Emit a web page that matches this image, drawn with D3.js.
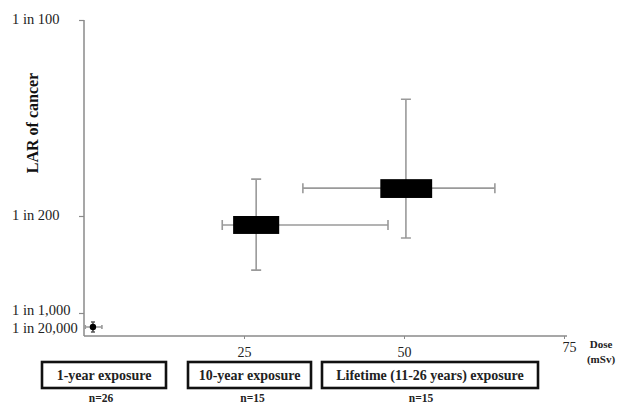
<!DOCTYPE html>
<html>
<head>
<meta charset="utf-8">
<script src="https://cdn.jsdelivr.net/npm/d3@7"></script>
<style>
  body { margin: 0; background: #fff; }
  svg { display: block; font-family: "Liberation Serif", "DejaVu Serif", serif; }
</style>
</head>
<body>
<svg id="chart" width="621" height="405"></svg>
<script>
// ---- data ----
var groups = ["1-year exposure", "10-year exposure", "Lifetime (11-26 years) exposure"];
var nLabels = ["n=26", "n=15", "n=15"];

// dose (mSv)
var doseMid = [1.4, 26.9, 50.3];
var doseQ1 = [null, 23.3, 46.3];
var doseQ3 = [null, 30.5, 54.4];
var doseMin = [0.2, 21.6, 34.2];
var doseMax = [2.8, 47.5, 64.2];

// lifetime attributable risk (as a fraction)
var riskMid = [0.00005, 0.00463, 0.00571];
var riskQ1 = [null, 0.00426, 0.00546];
var riskQ3 = [null, 0.005, 0.00594];
var riskMin = [0.000022, 0.00277, 0.00409];
var riskMax = [0.00039, 0.00594, 0.00798];

var yTicks = [1 / 20000, 1 / 1000, 1 / 200, 1 / 100];
var yTickLabels = ["1 in 20,000", "1 in 1,000", "1 in 200", "1 in 100"];
var xTicks = [25, 50, 75];

var svg = d3.select("#chart");

// the original axis is not linear nor log: piecewise mapping between the labelled risks
var y = d3.scaleLinear()
    .domain([0, 1 / 20000, 1 / 1000, 1 / 200, 1 / 100])
    .range([336, 327, 313, 216, 20]);
var x = d3.scaleLinear().domain([0, 75]).range([84, 564]);

var axisColor = "#8a8a8a";
var whiskerColor = "#9a9a9a";

// ---- axes ----
var yAxis = svg.append("g")
    .attr("transform", "translate(" + x(0) + ",0)")
    .call(d3.axisLeft(y).tickValues(yTicks).tickSize(5).tickFormat(""));
yAxis.select(".domain").attr("d", "M0," + y(1 / 100) + "V" + y(0)).attr("stroke", axisColor).attr("stroke-width", 1.5);
yAxis.selectAll(".tick line").attr("stroke", axisColor).attr("stroke-width", 1.2)
    .attr("display", function (d) { return d === 1 / 20000 ? "none" : null; });

// labels sit at the left edge; the two lowest ones are squeezed apart a little
svg.append("g").selectAll("text")
    .data(yTicks)
    .join("text")
    .attr("x", 12)
    .attr("y", function (d, i) { return y(d) + (i === 1 ? -3 : i === 0 ? 1 : -1); })
    .attr("dy", "0.32em")
    .attr("font-size", 14.5)
    .attr("fill", "#222")
    .text(function (d, i) { return yTickLabels[i]; });

var xAxis = svg.append("g")
    .attr("transform", "translate(0," + y(0) + ")")
    .call(d3.axisBottom(x).tickValues(xTicks).tickSize(3).tickFormat(d3.format("d")));
xAxis.select(".domain").attr("d", "M" + x(0) + ",0H" + (x(75) + 3)).attr("stroke", axisColor).attr("stroke-width", 1.5);
xAxis.selectAll(".tick line").attr("stroke", axisColor);
xAxis.selectAll(".tick text")
    .attr("font-family", "Liberation Serif, serif")
    .attr("font-size", 14)
    .attr("fill", "#222")
    .attr("y", function (d) { return d === 75 ? 6 : 11; })
    .attr("dx", function (d) { return d === 75 ? 5 : 0; });

svg.append("text")
    .attr("transform", "translate(38,123) rotate(-90)")
    .attr("text-anchor", "middle")
    .attr("font-size", 16)
    .attr("font-weight", "bold")
    .attr("fill", "#111")
    .text("LAR of cancer");

var doseLabel = svg.append("text")
    .attr("x", 601)
    .attr("text-anchor", "middle")
    .attr("font-size", 11)
    .attr("font-weight", "bold")
    .attr("fill", "#222");
doseLabel.append("tspan").attr("x", 601).attr("y", 348).text("Dose");
doseLabel.append("tspan").attr("x", 601).attr("y", 363).text("(mSv)");

// ---- whiskers and boxes ----
var idx = d3.range(groups.length);
var marks = svg.append("g");
var cap = 5;

marks.selectAll(".hwhisker")
    .data(idx)
    .join("path")
    .attr("class", "hwhisker")
    .attr("fill", "none")
    .attr("stroke", whiskerColor)
    .attr("stroke-width", 1.6)
    .attr("d", function (i) {
        var yy = y(riskMid[i]);
        var c = i === 0 ? 2 : cap;
        return "M" + x(doseMin[i]) + "," + yy + "H" + x(doseMax[i]) +
            "M" + x(doseMin[i]) + "," + (yy - c) + "V" + (yy + c) +
            "M" + x(doseMax[i]) + "," + (yy - c) + "V" + (yy + c);
    });

marks.selectAll(".vwhisker")
    .data(idx)
    .join("path")
    .attr("class", "vwhisker")
    .attr("fill", "none")
    .attr("stroke", function (i) { return i === 0 ? "#555" : whiskerColor; })
    .attr("stroke-width", 1.6)
    .attr("d", function (i) {
        var xx = x(doseMid[i]);
        var c = i === 0 ? 2 : cap;
        return "M" + xx + "," + y(riskMax[i]) + "V" + y(riskMin[i]) +
            "M" + (xx - c) + "," + y(riskMax[i]) + "H" + (xx + c) +
            "M" + (xx - c) + "," + y(riskMin[i]) + "H" + (xx + c);
    });

marks.selectAll(".box")
    .data(idx.filter(function (i) { return doseQ1[i] !== null; }))
    .join("rect")
    .attr("class", "box")
    .attr("x", function (i) { return x(doseQ1[i]); })
    .attr("width", function (i) { return x(doseQ3[i]) - x(doseQ1[i]); })
    .attr("y", function (i) { return y(riskQ3[i]); })
    .attr("height", function (i) { return y(riskQ1[i]) - y(riskQ3[i]); })
    .attr("fill", "#000");

marks.append("circle")
    .attr("cx", x(doseMid[0]))
    .attr("cy", y(riskMid[0]))
    .attr("r", 3.2)
    .attr("fill", "#000");

// ---- group labels below the axis ----
var labelBoxes = [[42, 166], [188, 311], [322, 538]];
var labels = svg.append("g").selectAll("g")
    .data(idx)
    .join("g");

labels.append("rect")
    .attr("x", function (i) { return labelBoxes[i][0]; })
    .attr("y", 362)
    .attr("width", function (i) { return labelBoxes[i][1] - labelBoxes[i][0]; })
    .attr("height", 26)
    .attr("fill", "#fff")
    .attr("stroke", "#111")
    .attr("stroke-width", 2.6);

labels.append("text")
    .attr("x", function (i) { return (labelBoxes[i][0] + labelBoxes[i][1]) / 2; })
    .attr("y", 380)
    .attr("text-anchor", "middle")
    .attr("font-size", 14)
    .attr("font-weight", "bold")
    .attr("fill", "#222")
    .text(function (i) { return groups[i]; });

labels.append("text")
    .attr("x", function (i) { return (labelBoxes[i][0] + labelBoxes[i][1]) / 2 - 3 + (i === 1 ? 6 : i === 2 ? -6 : 0); })
    .attr("y", 402)
    .attr("text-anchor", "middle")
    .attr("font-size", 11.5)
    .attr("font-weight", "bold")
    .attr("fill", "#222")
    .text(function (i) { return nLabels[i]; });
</script>
</body>
</html>
